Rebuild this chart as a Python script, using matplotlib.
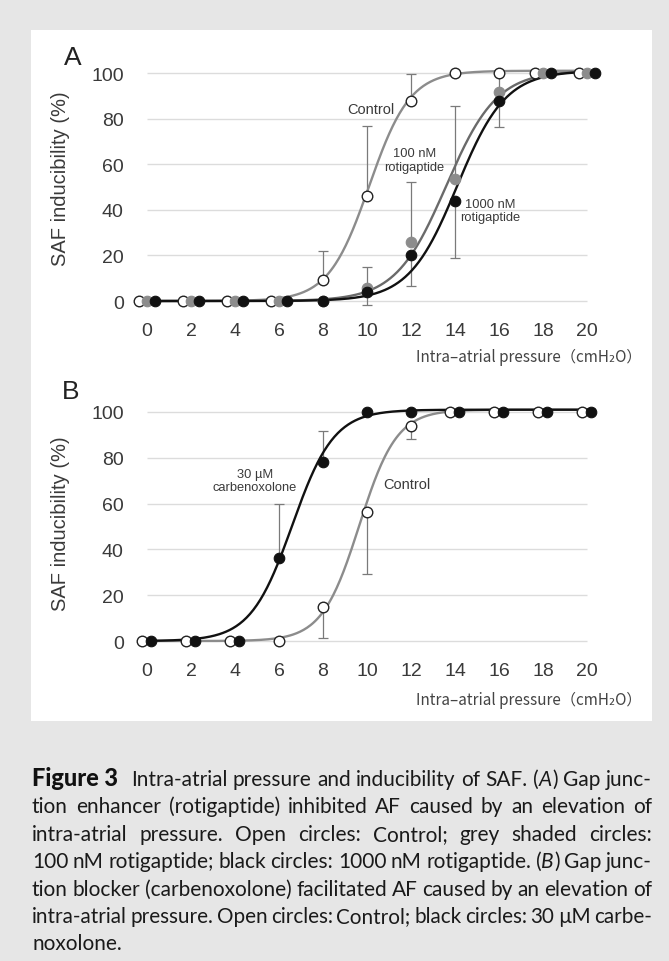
"""Figure 3: intra-atrial pressure vs. SAF inducibility (two panels + caption)."""

import matplotlib
matplotlib.use("Agg")
import matplotlib.pyplot as plt
from matplotlib.patches import Rectangle
import numpy as np

# ---- data -------------------------------------------------------------
pressure = np.array([0, 2, 4, 6, 8, 10, 12, 14, 16, 18, 20])
y_ticks = [0, 20, 40, 60, 80, 100]

# panel A
a_control = np.array([0, 0, 0, 0, 9.2, 46.2, 87.9, 100, 100, 100, 100])
a_control_up = np.array([0, 0, 0, 0, 12.6, 30.4, 11.7, 0, 0, 0, 0])
a_rot100 = np.array([0, 0, 0, 0, 0, 5.6, 26.0, 53.5, 91.5, 100, 100])
a_rot100_up = np.array([0, 0, 0, 0, 0, 9.4, 26.2, 31.9, 9.5, 0, 0])
a_rot1000 = np.array([0, 0, 0, 0, 0, 3.8, 20.2, 44.0, 87.9, 100, 100])
a_rot1000_down = np.array([0, 0, 0, 0, 0, 5.6, 13.8, 25.3, 11.7, 0, 0])

# panel B
b_control = np.array([0, 0, 0, 0, 14.7, 56.2, 94.0, 100, 100, 100, 100])
b_control_down = np.array([0, 0, 0, 0, 13.5, 26.9, 6.0, 0, 0, 0, 0])
b_cbx = np.array([0, 0, 0, 36.2, 78.0, 100, 100, 100, 100, 100, 100])
b_cbx_up = np.array([0, 0, 0, 23.6, 13.6, 0, 0, 0, 0, 0, 0])

# sigmoid curves: (half-max pressure, slope width)
a_fit_control = (10.1, 0.93)
a_fit_rot100 = (13.6, 1.15)
a_fit_rot1000 = (14.1, 1.1)
b_fit_control = (9.65, 0.85)
b_fit_cbx = (6.6, 0.95)

# pressures where overlapping markers are dodged sideways
a_dodge_at = [0, 2, 4, 6, 18, 20]
b_dodge_at = [0, 2, 4, 14, 16, 18, 20]

caption_label = "Figure 3"
caption_lines = [
    "Intra-atrial pressure and inducibility of SAF. (_A_) Gap junc-",
    "tion enhancer (rotigaptide) inhibited AF caused by an elevation of",
    "intra-atrial pressure. Open circles: Control; grey shaded circles:",
    "100 nM rotigaptide; black circles: 1000 nM rotigaptide. (_B_) Gap junc-",
    "tion blocker (carbenoxolone) facilitated AF caused by an elevation of",
    "intra-atrial pressure. Open circles: Control; black circles: 30 \u00b5M carbe-",
    "noxolone.",
]

# ---- style ------------------------------------------------------------
W, H = 669, 962
SANS = "Liberation Sans"
CAPTION_FONT = "Lato"
TXT = "#3a3a3a"
GRID = "#dcdcdc"
ERR = "#7a7a7a"
plt.rcParams["font.family"] = [SANS, "DejaVu Sans"]

OPEN = dict(mfc="white", mec="#222222", mew=1.0)
GREY = dict(mfc="#8c8c8c", mec="#8c8c8c", mew=0.8)
BLACK = dict(mfc="#111111", mec="#111111", mew=0.8)


def _curve(fit, top=101.0):
    xs = np.linspace(-0.35, 20.35, 400)
    x50, s = fit
    return xs, top / (1 + np.exp(-(xs - x50) / s))


def _series(ax, y, down, up, mstyle, fit, color, shift, dodge_at, z):
    xs, ys = _curve(fit)
    ax.plot(xs, ys, color=color, lw=1.7, zorder=z, solid_capstyle="round")
    m = (down > 0) | (up > 0)
    if m.any():
        ax.errorbar(pressure[m], y[m], yerr=[down[m], up[m]], fmt="none",
                    ecolor=ERR, elinewidth=0.9, capsize=3.6, capthick=0.9,
                    zorder=2)
    xd = np.array([p + shift if p in dodge_at else p for p in pressure], float)
    ax.plot(xd, y, "o", ls="none", ms=7.6, zorder=z + 5, **mstyle)


def _panel(ax):
    ax.set_xlim(-0.8, 20.8)
    ax.set_ylim(-5, 105)
    ax.set_facecolor("none")
    for s in ax.spines.values():
        s.set_visible(False)
    ax.hlines(y_ticks, 0, 20, color=GRID, lw=1.0, zorder=0)
    ax.set_xticks(pressure)
    ax.set_yticks(y_ticks)
    ax.tick_params(length=0, labelsize=14, labelcolor=TXT)
    ax.tick_params(axis="x", pad=7)
    ax.tick_params(axis="y", pad=4)
    ax.set_ylabel("SAF inducibility (%)", fontsize=14.5, color=TXT)


def _draw_caption(fig, label, lines, left, right, top, step, size):
    r = fig.canvas.get_renderer()
    px = 100 / 72
    span = right - left
    for i, line in enumerate(lines):
        y = 1 - (top + i * step) / H
        last = i == len(lines) - 1
        fs = size
        while True:
            pieces = []
            if i == 0:
                pieces.append([fig.text(0, y, label, fontsize=fs + 2, weight="black",
                                        family=CAPTION_FONT, color="#111111",
                                        va="baseline")])
            for word in line.split(" "):
                segs = word.split("_")
                pieces.append([fig.text(0, y, s, fontsize=fs, family=CAPTION_FONT,
                                        style="italic" if k % 2 else "normal",
                                        color="#1a1a1a", va="baseline")
                               for k, s in enumerate(segs) if s])
            widths = [[t.get_window_extent(r).width for t in p] for p in pieces]
            total = sum(sum(w) for w in widths)
            extra = 0.35 * fs * px if i == 0 else 0
            gap = 0.24 * fs * px if last else (span - total - extra) / (len(pieces) - 1)
            if gap >= 0.16 * fs * px or last:
                break
            for p in pieces:
                for t in p:
                    t.remove()
            fs -= 0.1
        x = left
        for j, (p, ws) in enumerate(zip(pieces, widths)):
            for t, w in zip(p, ws):
                t.set_x(x / W)
                x += w
            x += gap + (extra if (i == 0 and j == 0) else 0)


fig = plt.figure(figsize=(W / 100, H / 100), dpi=100)
fig.patch.set_facecolor("#e6e6e6")
fig.add_artist(Rectangle((31 / W, 1 - 722 / H), (652 - 31) / W, (722 - 31) / H,
                         transform=fig.transFigure, facecolor="white",
                         edgecolor="none", zorder=0))

ax_left, ax_w = 129.4 / W, 475.2 / W
ax_a = fig.add_axes([ax_left, 0.6742, ax_w, 0.2607])
ax_b = fig.add_axes([ax_left, 0.3207, ax_w, 0.2619])

# panel A
_panel(ax_a)
ax_a.yaxis.set_label_coords(-0.125, 0.536)
zero = np.zeros(len(pressure))
_series(ax_a, a_control, zero, a_control_up, OPEN, a_fit_control, "#8c8c8c", -0.36, a_dodge_at, 3)
_series(ax_a, a_rot100, zero, a_rot100_up, GREY, a_fit_rot100, "#6a6a6a", 0.0, a_dodge_at, 4)
_series(ax_a, a_rot1000, a_rot1000_down, zero, BLACK, a_fit_rot1000, "#111111", 0.36, a_dodge_at, 5)
ax_a.text(10.18, 84.2, "Control", fontsize=10.5, color=TXT, ha="center", va="center", zorder=20)
ax_a.text(12.14, 61.8, "100 nM\nrotigaptide", fontsize=9.3, color=TXT, ha="center",
          va="center", multialignment="center", zorder=20)
ax_a.text(15.6, 39.7, "1000 nM\nrotigaptide", fontsize=9.3, color=TXT, ha="center",
          va="center", multialignment="center", zorder=20)

# panel B
_panel(ax_b)
ax_b.yaxis.set_label_coords(-0.125, 0.514)
_series(ax_b, b_control, b_control_down, zero, OPEN, b_fit_control, "#8c8c8c", -0.22, b_dodge_at, 3)
_series(ax_b, b_cbx, zero, b_cbx_up, BLACK, b_fit_cbx, "#111111", 0.2, b_dodge_at, 5)
ax_b.text(4.9, 70.1, "30 \u00b5M\ncarbenoxolone", fontsize=9.3, color=TXT, ha="center",
          va="center", multialignment="center", zorder=20)
ax_b.text(11.8, 68.5, "Control", fontsize=10.5, color=TXT, ha="center", va="center", zorder=20)

# panel letters and x-axis titles
fig.text(64 / W, 1 - 58 / H, "A", fontsize=19, color="#222222", ha="left", va="center")
fig.text(62 / W, 1 - 392 / H, "B", fontsize=19, color="#222222", ha="left", va="center")
xlab = "Intra\u2013atrial pressure\uff08cmH\u2082O\uff09"
for yy in (357, 700):
    fig.text(642 / W, 1 - yy / H, xlab, fontsize=11, color="#444444", ha="right",
             va="center", family=["Noto Sans CJK JP", "DejaVu Sans"])

_draw_caption(fig, caption_label, caption_lines, 32, 652, 786, 27.4, 15)

fig.savefig("out.png", dpi=100, facecolor=fig.get_facecolor())
